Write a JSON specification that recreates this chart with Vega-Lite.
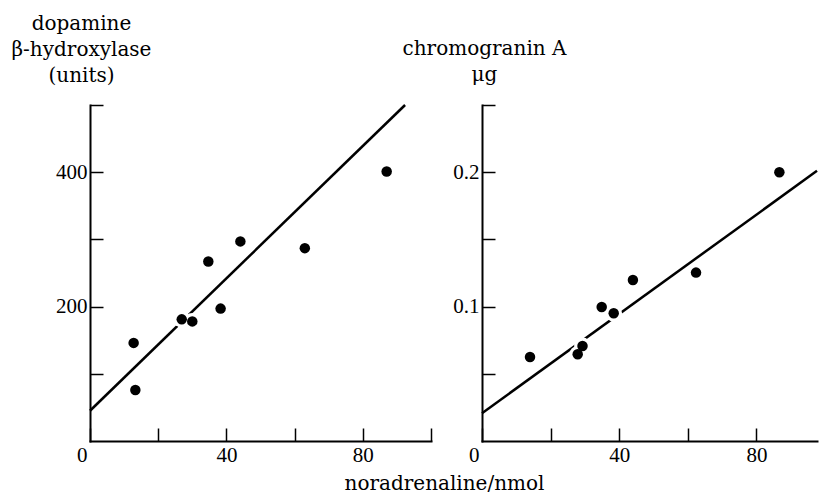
{
  "$schema": "https://vega.github.io/schema/vega-lite/v6.json",
  "background": "white",
  "padding": {"left": 11, "top": 13, "right": 0, "bottom": 0},
  "bounds": "flush",
  "spacing": 51,
  "config": {
    "view": {"stroke": null},
    "axis": {
      "grid": false,
      "domainColor": "black",
      "domainWidth": 2,
      "domainCap": "square",
      "tickColor": "black",
      "tickWidth": 1.5,
      "tickSize": -13,
      "labelFont": "Liberation Serif",
      "labelFontSize": 21,
      "labelColor": "black",
      "labelPadding": 16,
      "labelOverlap": false,
      "labelFlush": false,
      "titleFont": "DejaVu Serif",
      "titleFontSize": 20,
      "titleFontWeight": "normal",
      "titleColor": "black"
    }
  },
  "datasets": {
    "dbh": [
      {"noradrenaline": 12.8, "value": 146},
      {"noradrenaline": 13.3, "value": 76},
      {"noradrenaline": 26.9, "value": 181},
      {"noradrenaline": 30.0, "value": 178},
      {"noradrenaline": 34.7, "value": 267},
      {"noradrenaline": 38.3, "value": 197},
      {"noradrenaline": 44.1, "value": 297},
      {"noradrenaline": 63.0, "value": 287},
      {"noradrenaline": 87.0, "value": 401}
    ],
    "dbhFit": [
      {"noradrenaline": 0, "value": 45},
      {"noradrenaline": 92.4, "value": 500}
    ],
    "cga": [
      {"noradrenaline": 14.0, "value": 0.0625},
      {"noradrenaline": 27.9, "value": 0.0645},
      {"noradrenaline": 29.3, "value": 0.0707},
      {"noradrenaline": 34.9, "value": 0.0997},
      {"noradrenaline": 38.4, "value": 0.095},
      {"noradrenaline": 44.0, "value": 0.1198},
      {"noradrenaline": 62.4, "value": 0.1253},
      {"noradrenaline": 86.7, "value": 0.2}
    ],
    "cgaFit": [
      {"noradrenaline": 0, "value": 0.0207},
      {"noradrenaline": 97.67, "value": 0.201}
    ]
  },
  "hconcat": [
    {
      "width": 341,
      "height": 336,
      "encoding": {
        "x": {
          "field": "noradrenaline", "type": "quantitative",
          "scale": {"domain": [0, 100], "nice": false, "zero": false},
          "axis": {
            "values": [0, 20, 40, 60, 80, 100],
            "labelExpr": "datum.value % 40 === 0 ? datum.label : ''",
            "labelAlign": {"condition": {"test": "datum.value === 0", "value": "right"}, "value": "center"},
            "labelOffset": {"condition": {"test": "datum.value === 0", "value": -3}, "value": 0},
            "title": "noradrenaline/nmol",
            "titleX": 354,
            "titleY": 48.5,
            "titleAlign": "center",
            "titleBaseline": "alphabetic"
          }
        },
        "y": {
          "field": "value", "type": "quantitative",
          "scale": {"domain": [0, 500], "nice": false},
          "axis": {
            "values": [100, 200, 300, 400, 500],
            "labelExpr": "datum.value === 200 || datum.value === 400 ? datum.label : ''",
            "labelBaseline": "middle",
            "title": ["dopamine", "β-hydroxylase", "(units)"],
            "titleAngle": 0,
            "titleAlign": "center",
            "titleBaseline": "alphabetic",
            "titleLineHeight": 26,
            "titleX": -9,
            "titleY": -76
          }
        }
      },
      "layer": [
        {"data": {"name": "dbhFit"}, "mark": {"type": "line", "color": "black", "strokeWidth": 2.5}},
        {"data": {"name": "dbh"}, "mark": {"type": "circle", "color": "white", "opacity": 1, "size": 280}},
        {"data": {"name": "dbh"}, "mark": {"type": "circle", "color": "black", "opacity": 1, "size": 110}}
      ]
    },
    {
      "width": 335,
      "height": 336,
      "encoding": {
        "x": {
          "field": "noradrenaline", "type": "quantitative",
          "scale": {"domain": [0, 97.67], "nice": false, "zero": false},
          "axis": {
            "values": [0, 20, 40, 60, 80],
            "labelExpr": "datum.value % 40 === 0 ? datum.label : ''",
            "labelAlign": {"condition": {"test": "datum.value === 0", "value": "right"}, "value": "center"},
            "labelOffset": {"condition": {"test": "datum.value === 0", "value": -3}, "value": 0},
            "title": null
          }
        },
        "y": {
          "field": "value", "type": "quantitative",
          "scale": {"domain": [0, 0.25], "nice": false},
          "axis": {
            "values": [0.05, 0.1, 0.15, 0.2, 0.25],
            "format": ".1f",
            "labelExpr": "datum.value === 0.1 || datum.value === 0.2 ? datum.label : ''",
            "labelBaseline": "middle",
            "title": ["chromogranin A", "μg"],
            "titleAngle": 0,
            "titleAlign": "center",
            "titleBaseline": "alphabetic",
            "titleLineHeight": 26,
            "titleX": 2,
            "titleY": -51
          }
        }
      },
      "layer": [
        {"data": {"name": "cgaFit"}, "mark": {"type": "line", "color": "black", "strokeWidth": 2.5}},
        {"data": {"name": "cga"}, "mark": {"type": "circle", "color": "white", "opacity": 1, "size": 280}},
        {"data": {"name": "cga"}, "mark": {"type": "circle", "color": "black", "opacity": 1, "size": 110}}
      ]
    }
  ]
}
